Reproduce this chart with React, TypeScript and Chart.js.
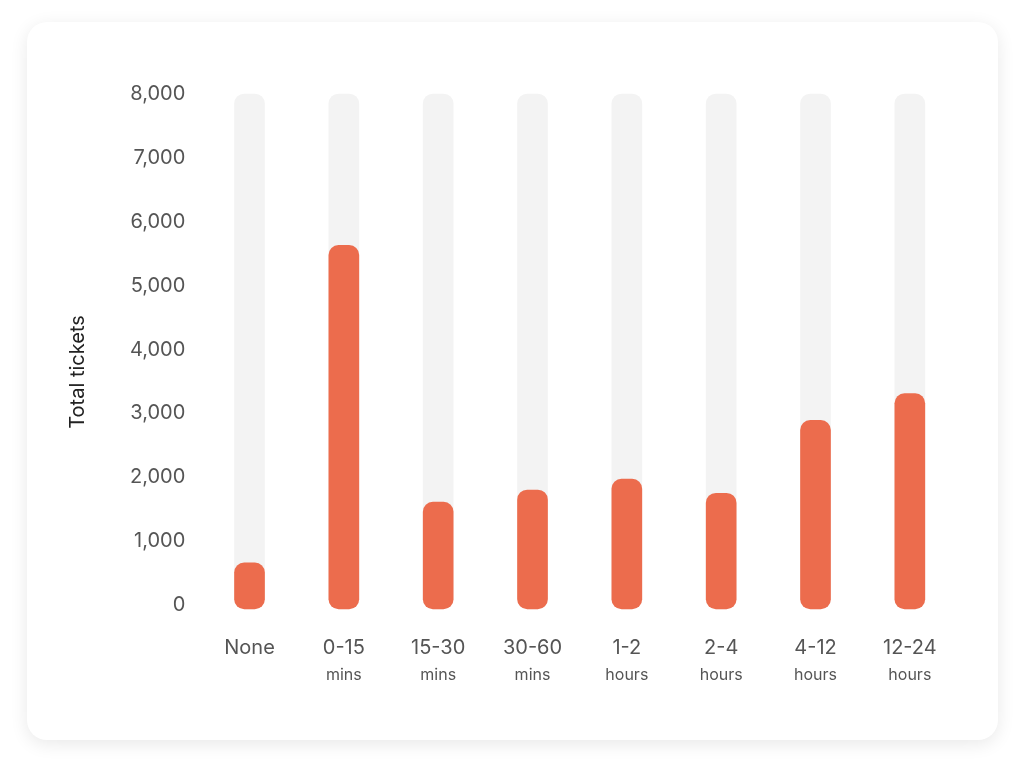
import { useEffect, useRef } from "react";
import { Chart, registerables } from "chart.js";

Chart.register(...registerables);

// wait time buckets (first line / second line of the label)
const bucketNames = ["None", "0-15", "15-30", "30-60", "1-2", "2-4", "4-12", "12-24"];
const bucketUnits = ["", "mins", "mins", "mins", "hours", "hours", "hours", "hours"];
const ticketCounts = [660, 5630, 1610, 1800, 1970, 1750, 2890, 3310];
const trackMax = [8000, 8000, 8000, 8000, 8000, 8000, 8000, 8000];
const yTitle = "Total tickets";

const FONT = "Inter, 'Open Sans', sans-serif";

// second line of x labels (smaller) + y title, which sits a bit below the middle
const extraText = {
  id: "extraText",
  afterDraw(chart: Chart) {
    const x = chart.scales.x;
    const ctx = chart.ctx;
    ctx.save();
    ctx.font = `16px ${FONT}`;
    ctx.fillStyle = "#555";
    ctx.textAlign = "center";
    ctx.textBaseline = "middle";
    bucketUnits.forEach((u, i) => {
      if (!u) return;
      ctx.fillText(u, x.getPixelForTick(i), x.top + 70);
    });

    ctx.translate(51, 350);
    ctx.rotate(-Math.PI / 2);
    ctx.font = `20px ${FONT}`;
    ctx.fillStyle = "#222";
    ctx.fillText(yTitle, 0, 0);
    ctx.restore();
  },
};

export default function App() {
  const canvasRef = useRef<HTMLCanvasElement>(null);

  useEffect(() => {
    if (!canvasRef.current) return;
    const chart = new Chart(canvasRef.current, {
      type: "bar",
      data: {
        labels: bucketNames,
        datasets: [
          {
            label: yTitle,
            data: ticketCounts,
            backgroundColor: "#ec6c4d",
            barThickness: 30,
            borderRadius: 10,
            borderSkipped: false,
            base: -60,
            grouped: false,
            order: 0,
            clip: false,
          },
          {
            label: "track",
            data: trackMax,
            backgroundColor: "#f3f3f3",
            barThickness: 30,
            borderRadius: 10,
            borderSkipped: false,
            base: -60,
            grouped: false,
            order: 1,
            clip: false,
          },
        ],
      },
      options: {
        animation: false,
        responsive: true,
        maintainAspectRatio: false,
        layout: { padding: { top: 72, right: 41, bottom: 57, left: 94 } },
        plugins: { legend: { display: false }, tooltip: { enabled: false } },
        scales: {
          x: {
            grid: { display: false },
            border: { display: false },
            ticks: {
              color: "#555",
              padding: 23,
              maxRotation: 0,
              font: { family: FONT, size: 20 },
            },
          },
          y: {
            min: 0,
            max: 8000,
            grid: { display: false },
            border: { display: false },
            ticks: {
              stepSize: 1000,
              color: "#555",
              padding: 9,
              font: { family: FONT, size: 20 },
            },
          },
        },
      },
      plugins: [extraText],
    });
    return () => chart.destroy();
  }, []);

  return (
    <div
      style={{
        position: "absolute",
        left: 27,
        top: 22,
        width: 971,
        height: 718,
        background: "#fff",
        borderRadius: 20,
        boxShadow: "0 4px 18px rgba(0,0,0,0.09)",
      }}
    >
      <canvas ref={canvasRef}></canvas>
    </div>
  );
}
